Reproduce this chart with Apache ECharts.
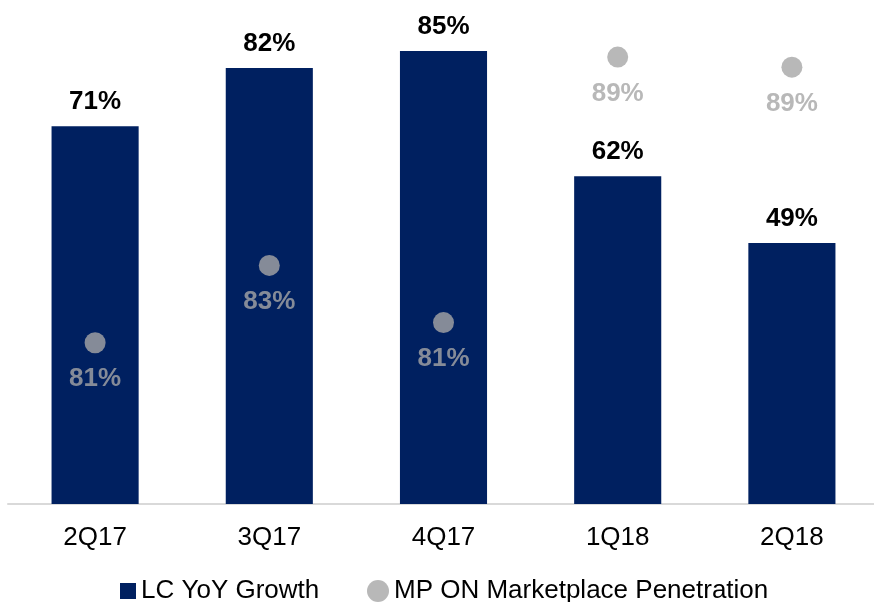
<!DOCTYPE html>
<html>
<head>
<meta charset="utf-8">
<script src="https://cdn.jsdelivr.net/npm/echarts@6/dist/echarts.min.js"></script>
<style>
  html, body { margin: 0; padding: 0; background: #fff; }
  #main { width: 874px; height: 602px; }
</style>
</head>
<body>
<div id="main"></div>
<script>
// 季度
const quarters = ['2Q17', '3Q17', '4Q17', '1Q18', '2Q18'];
// LC YoY Growth（柱）
const lcGrowth = [71.2, 82.2, 85.4, 61.8, 49.2];
// MP ON Marketplace Penetration（点）
const mpPenetration = [80.8, 83.1, 81.4, 89.3, 89.0];

const FONT = 'Liberation Sans, Arial, sans-serif';
const chart = echarts.init(document.getElementById('main'));

chart.setOption({
  animation: false,
  grid: {
    left: 8,
    width: 871,
    top: 0,
    bottom: 98,
    outerBoundsMode: 'none',
    containLabel: false
  },
  legend: [{
    data: ['LC YoY Growth'],
    left: 120,
    top: 578,
    padding: 0,
    icon: 'rect',
    itemWidth: 16,
    itemHeight: 16,
    textStyle: { fontFamily: FONT, fontSize: 26, color: '#000' }
  }, {
    data: ['MP ON Marketplace Penetration'],
    left: 367,
    top: 578,
    padding: 0,
    icon: 'circle',
    itemWidth: 22,
    itemHeight: 22,
    textStyle: { fontFamily: FONT, fontSize: 26, color: '#000' }
  }],
  xAxis: {
    type: 'category',
    data: quarters,
    axisTick: { show: false },
    axisLine: { lineStyle: { color: '#d9d9d9', width: 2 } },
    axisLabel: {
      fontFamily: FONT,
      fontSize: 26,
      color: '#000',
      margin: 21
    }
  },
  yAxis: [{
    type: 'value',
    min: 0,
    max: 95,
    show: false,
    splitLine: { show: false }
  }, {
    type: 'value',
    min: 76,
    max: 91,
    show: false,
    splitLine: { show: false }
  }],
  series: [{
    name: 'LC YoY Growth',
    type: 'bar',
    data: lcGrowth,
    barWidth: '50%',
    itemStyle: { color: '#002060' },
    label: {
      show: true,
      position: 'top',
      distance: 11,
      fontFamily: FONT,
      fontSize: 26,
      fontWeight: 'bold',
      color: '#000',
      formatter: (p) => Math.round(p.value) + '%'
    }
  }, {
    name: 'MP ON Marketplace Penetration',
    type: 'scatter',
    yAxisIndex: 1,
    data: mpPenetration,
    symbol: 'circle',
    symbolSize: 21,
    itemStyle: { color: '#a6a6a6' },
    label: {
      show: true,
      position: 'bottom',
      distance: 13,
      fontFamily: FONT,
      fontSize: 26,
      fontWeight: 'bold',
      color: '#a6a6a6',
      formatter: (p) => Math.round(p.value) + '%'
    }
  }]
});
</script>
</body>
</html>
